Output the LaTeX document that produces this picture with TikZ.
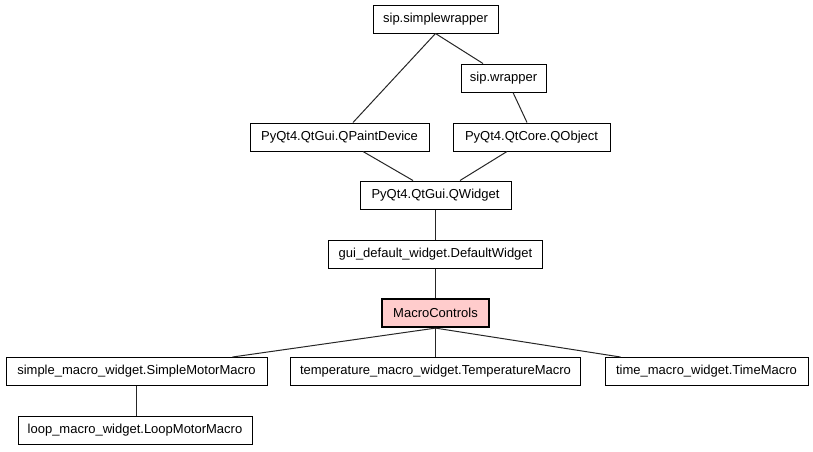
\documentclass[tikz,border=0pt]{standalone}
\usepackage{fontspec}
\setmainfont{Liberation Sans}
\definecolor{mcfill}{HTML}{FFCCCC}
\begin{document}
\begin{tikzpicture}[x=1pt,y=-1pt,
  cls/.style={draw=black,line width=1pt,inner sep=0pt,minimum height=28pt,font=\fontsize{13}{15}\selectfont,fill=white},
  cur/.style={cls,line width=2.2pt,fill=mcfill},
  edge/.style={draw=black!85,line width=1pt}]
\useasboundingbox (0,0) rectangle (813,451);
\node[cls,minimum width=125pt] (sw) at (435.5,19) {sip.simplewrapper};
\node[cls,minimum width=85pt] (wr) at (503.5,78) {sip.wrapper};
\node[cls,minimum width=179pt] (pd) at (339.5,137) {PyQt4.QtGui.QPaintDevice};
\node[cls,minimum width=157pt] (qo) at (531.5,137) {PyQt4.QtCore.QObject};
\node[cls,minimum width=151pt] (qw) at (435.5,195) {PyQt4.QtGui.QWidget};
\node[cls,minimum width=214pt] (dw) at (435.5,254) {gui\_default\_widget.DefaultWidget};
\node[cur,minimum width=107pt] (mc) at (435.5,313) {MacroControls};
\node[cls,minimum width=261pt] (smm) at (136.5,371.5) {simple\_macro\_widget.SimpleMotorMacro};
\node[cls,minimum width=290pt] (tmm) at (435.5,371.5) {temperature\_macro\_widget.TemperatureMacro};
\node[cls,minimum width=203pt] (tim) at (706.5,371.5) {time\_macro\_widget.TimeMacro};
\node[cls,minimum width=234pt] (loop) at (135,430.5) {loop\_macro\_widget.LoopMotorMacro};
\draw[edge] (sw.south) -- ([xshift=13.5pt]pd.north);
\draw[edge] (sw.south) -- ([xshift=-20.5pt]wr.north);
\draw[edge] ([xshift=9.5pt]wr.south) -- ([xshift=-4.5pt]qo.north);
\draw[edge] ([xshift=23.5pt]pd.south) -- ([xshift=-22.5pt]qw.north);
\draw[edge] ([xshift=-24.5pt]qo.south) -- ([xshift=24.5pt]qw.north);
\draw[edge] (qw.south) -- (dw.north);
\draw[edge] (dw.south) -- (mc.north);
\draw[edge] (mc.south) -- ([xshift=96pt]smm.north);
\draw[edge] (mc.south) -- (tmm.north);
\draw[edge] (mc.south) -- ([xshift=-86pt]tim.north);
\draw[edge] (smm.south) -- (smm.south |- loop.north);
\end{tikzpicture}
\end{document}
